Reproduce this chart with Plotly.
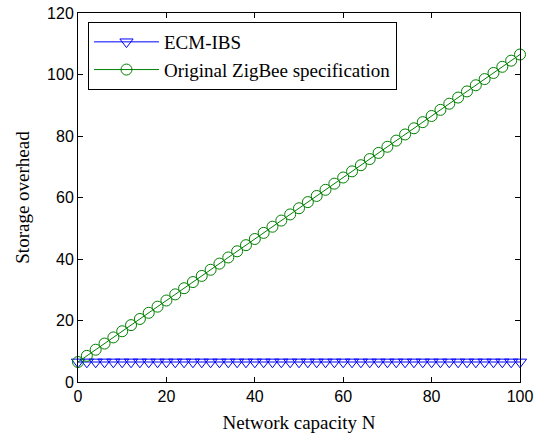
import plotly.graph_objects as go

capacity_N = [0, 2, 4, 6, 8, 10, 12, 14, 16, 18, 20, 22, 24, 26, 28, 30, 32, 34, 36, 38, 40,
              42, 44, 46, 48, 50, 52, 54, 56, 58, 60, 62, 64, 66, 68, 70, 72, 74, 76, 78, 80,
              82, 84, 86, 88, 90, 92, 94, 96, 98, 100]
ecm_ibs = [6.5] * 51
zigbee = [6.5, 8.5, 10.5, 12.5, 14.5, 16.5, 18.5, 20.5, 22.5, 24.5, 26.5, 28.5, 30.5, 32.5,
          34.5, 36.5, 38.5, 40.5, 42.5, 44.5, 46.5, 48.5, 50.5, 52.5, 54.5, 56.5, 58.5, 60.5,
          62.5, 64.5, 66.5, 68.5, 70.5, 72.5, 74.5, 76.5, 78.5, 80.5, 82.5, 84.5, 86.5, 88.5,
          90.5, 92.5, 94.5, 96.5, 98.5, 100.5, 102.5, 104.5, 106.5]
x_ticks = [0, 20, 40, 60, 80, 100]
y_ticks = [0, 20, 40, 60, 80, 100, 120]

fig = go.Figure()
fig.add_trace(go.Scatter(
    x=capacity_N, y=ecm_ibs, mode="lines+markers", name="ECM-IBS", cliponaxis=False,
    line=dict(color="#0000FF", width=1),
    marker=dict(symbol="triangle-down-open", size=11.5, color="#0000FF", line=dict(width=1)),
))
fig.add_trace(go.Scatter(
    x=capacity_N, y=zigbee, mode="lines+markers", name="Original ZigBee specification",
    cliponaxis=False,
    line=dict(color="#008000", width=1),
    marker=dict(symbol="circle-open", size=11, color="#008000", line=dict(width=1)),
))

axis_common = dict(
    showgrid=False, zeroline=False, showline=True, linecolor="black", linewidth=1,
    mirror="ticks", ticks="inside", ticklen=5, tickcolor="black", automargin=False,
    tickfont=dict(family="Liberation Sans, Arial", size=16, color="black"),
)
fig.update_xaxes(range=[0, 100], tickvals=x_ticks,
                 title=dict(text="Network capacity N", standoff=11,
                            font=dict(family="Liberation Serif, Times New Roman", size=19, color="black")),
                 **axis_common)
fig.update_yaxes(range=[0, 120], tickvals=y_ticks,
                 title=dict(text="Storage overhead", standoff=12,
                            font=dict(family="Liberation Serif, Times New Roman", size=19, color="black")),
                 **axis_common)

fig.update_layout(
    width=534, height=437,
    margin=dict(l=78, r=14, t=13, b=55, autoexpand=False),
    plot_bgcolor="white", paper_bgcolor="white",
    showlegend=True,
    legend=dict(x=0.0226, y=0.9756, xanchor="left", yanchor="top",
                bgcolor="white", bordercolor="black", borderwidth=1,
                font=dict(family="Liberation Serif, Times New Roman", size=19, color="black"),
                itemwidth=65, tracegroupgap=0),
)

fig.write_html("out.html", config={"displayModeBar": False},
               post_script="document.body.style.margin='0';")
